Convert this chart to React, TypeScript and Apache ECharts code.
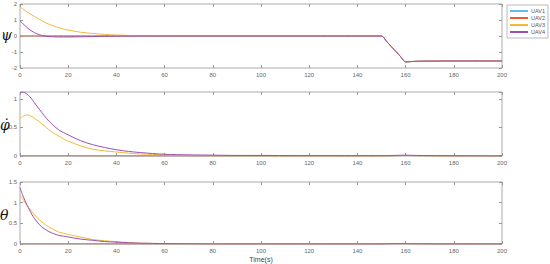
import React, { useEffect, useRef } from "react";
import * as echarts from "echarts";

const T = [0, 1, 2, 3, 4, 5, 6, 8, 10, 12, 14, 16, 18, 20, 25, 30, 35, 40, 45, 50, 60, 70, 80, 90, 100, 110, 120, 130, 140, 150, 152, 154, 156, 158, 160, 162, 165, 170, 180, 190, 200];

const seriesNames = ["UAV1", "UAV2", "UAV3", "UAV4"];
const colors = ["#5cc0ea", "#e8612c", "#f2b93a", "#9a4fb0"];

// psi
const psi12 = [0, 0, 0, 0, 0, 0, 0, 0, 0, 0, 0, 0, 0, 0, 0, 0, 0, 0, 0, 0, 0, 0, 0, 0, 0, 0, 0, 0, 0, 0, -0.32, -0.65, -0.97, -1.3, -1.62, -1.6, -1.58, -1.57, -1.56, -1.56, -1.56];
const psi3 = [1.83, 1.72, 1.61, 1.5, 1.41, 1.31, 1.22, 1.05, 0.88, 0.74, 0.62, 0.52, 0.44, 0.37, 0.24, 0.16, 0.1, 0.06, 0.04, 0.02, 0.01, 0, 0, 0, 0, 0, 0, 0, 0, 0, -0.32, -0.65, -0.97, -1.3, -1.62, -1.6, -1.58, -1.57, -1.56, -1.56, -1.56];
const psi4 = [0.94, 0.8, 0.66, 0.52, 0.4, 0.3, 0.21, 0.08, 0.0, -0.04, -0.05, -0.06, -0.06, -0.06, -0.05, -0.04, -0.02, -0.01, 0, 0, 0, 0, 0, 0, 0, 0, 0, 0, 0, 0, -0.32, -0.65, -0.97, -1.3, -1.62, -1.6, -1.58, -1.57, -1.56, -1.56, -1.56];

// phi dot
const phi12 = [0, 0, 0, 0, 0, 0, 0, 0, 0, 0, 0, 0, 0, 0, 0, 0, 0, 0, 0, 0, 0, 0, 0, 0, 0, 0, 0, 0, 0, 0, 0, 0.003, 0.006, 0.008, 0.01, 0.008, 0.005, 0.002, 0, 0, 0];
const phi3 = [0.65, 0.69, 0.71, 0.72, 0.71, 0.69, 0.66, 0.6, 0.53, 0.46, 0.4, 0.35, 0.3, 0.26, 0.18, 0.12, 0.09, 0.07, 0.05, 0.035, 0.02, 0.01, 0.005, 0.003, 0.002, 0.001, 0, 0, 0, 0, 0, 0.003, 0.006, 0.008, 0.01, 0.008, 0.005, 0.002, 0, 0, 0];
const phi4 = [1.11, 1.12, 1.11, 1.08, 1.04, 0.99, 0.93, 0.82, 0.71, 0.61, 0.53, 0.46, 0.41, 0.37, 0.27, 0.2, 0.15, 0.11, 0.08, 0.06, 0.03, 0.02, 0.015, 0.01, 0.01, 0.008, 0.006, 0.005, 0.005, 0.005, 0.006, 0.008, 0.011, 0.013, 0.014, 0.012, 0.01, 0.007, 0.004, 0.002, 0];

// theta
const th12 = [0, 0, 0, 0, 0, 0, 0, 0, 0, 0, 0, 0, 0, 0, 0, 0, 0, 0, 0, 0, 0, 0, 0, 0, 0, 0, 0, 0, 0, 0, 0.003, 0.005, 0.007, 0.008, 0.007, 0.005, 0.003, 0.001, 0, 0, 0];
const th3 = [1.19, 1.1, 1.01, 0.93, 0.85, 0.78, 0.71, 0.59, 0.49, 0.41, 0.35, 0.29, 0.26, 0.23, 0.17, 0.11, 0.08, 0.055, 0.035, 0.02, 0.01, 0.005, 0, 0, 0, 0, 0, 0, 0, 0, 0.003, 0.005, 0.007, 0.008, 0.007, 0.005, 0.003, 0.001, 0, 0, 0];
const th4 = [1.36, 1.2, 1.06, 0.93, 0.82, 0.71, 0.62, 0.47, 0.37, 0.3, 0.25, 0.21, 0.19, 0.17, 0.12, 0.09, 0.06, 0.045, 0.03, 0.02, 0.01, 0.005, 0, 0, 0, 0, 0, 0, 0, 0, 0.003, 0.005, 0.007, 0.008, 0.007, 0.005, 0.003, 0.001, 0, 0, 0];

const pairs = (v: number[]) => T.map((t, i) => [t, v[i]]);

export default function App() {
  const ref = useRef<HTMLDivElement>(null);
  useEffect(() => {
    if (!ref.current) return;
    const chart = echarts.init(ref.current, null, { renderer: "svg" });
    const grids = [
      { left: 20, top: 4, width: 482, height: 64 },
      { left: 20, top: 92, width: 482, height: 64 },
      { left: 20, top: 182, width: 482, height: 63 },
    ];
    const yCfg = [
      { min: -2, max: 2, interval: 1 },
      { min: 0, max: 1.12, interval: 0.5 },
      { min: 0, max: 1.5, interval: 0.5 },
    ];
    const axisLine = { show: false, onZero: false };
    const labelStyle = { fontSize: 6, color: "#666", fontFamily: "Liberation Sans" };
    const tick = { show: true, inside: true, length: 3, lineStyle: { color: "#999" } };
    const xAxis: any[] = [];
    const yAxis: any[] = [];
    grids.forEach((_, i) => {
      xAxis.push({
        type: "value", gridIndex: i, position: "bottom", min: 0, max: 200, interval: 20,
        axisLine, splitLine: { show: false }, axisTick: tick,
        axisLabel: { ...labelStyle, margin: 4 },
        ...(i === 2 ? { name: "Time(s)", nameLocation: "middle", nameGap: 12, nameTextStyle: { fontSize: 7, color: "#444", fontFamily: "Liberation Sans" } } : {}),
      });
    });
    grids.forEach((_, i) => {
      xAxis.push({
        type: "value", gridIndex: i, position: "top", min: 0, max: 200, interval: 20,
        axisLine, splitLine: { show: false }, axisTick: tick,
        axisLabel: { show: false },
      });
    });
    grids.forEach((_, i) => {
      yAxis.push({
        type: "value", gridIndex: i, position: "left", ...yCfg[i],
        axisLine, splitLine: { show: false }, axisTick: tick,
        axisLabel: {
          ...labelStyle, margin: 3,
          formatter: (v: number) => (Math.abs(v / 0.5 - Math.round(v / 0.5)) < 1e-6 ? String(v) : ""),
        },
      });
    });
    grids.forEach((_, i) => {
      yAxis.push({
        type: "value", gridIndex: i, position: "right", ...yCfg[i],
        axisLine, splitLine: { show: false }, axisTick: tick,
        axisLabel: { show: false },
      });
    });
    const data = [
      [psi12, psi12, psi3, psi4],
      [phi12, phi12, phi3, phi4],
      [th12, th12, th3, th4],
    ];
    const series: any[] = [];
    data.forEach((set, g) => {
      set.forEach((vals, k) => {
        series.push({
          type: "line", name: seriesNames[k], xAxisIndex: g, yAxisIndex: g,
          data: pairs(vals), showSymbol: false, smooth: 0.3,
          lineStyle: { width: 1, color: colors[k] }, itemStyle: { color: colors[k] },
        });
      });
    });
    chart.setOption({
      animation: false,
      backgroundColor: "#fff",
      grid: grids.map((g) => ({ ...g, show: true, borderColor: "#aaa", borderWidth: 1, backgroundColor: "transparent" })),
      xAxis, yAxis, series,
      legend: {
        data: seriesNames.map((n) => ({ name: n, icon: "rect" })),
        orient: "vertical", left: 507, top: 5, padding: [3, 3, 3, 3], itemGap: 1,
        itemWidth: 18, itemHeight: 2, borderColor: "#bbb", borderWidth: 1,
        textStyle: { fontSize: 5.5, color: "#555", fontFamily: "Liberation Sans", padding: [0, 0, 0, -2] },
      },
      graphic: [
        { type: "text", left: 1, top: 28, style: { text: "ψ", font: "italic 14px 'DejaVu Serif'", fill: "#111" } },
        { type: "text", left: 0, top: 118, style: { text: "φ̇", font: "italic 14px 'DejaVu Serif'", fill: "#111" } },
        { type: "text", left: 0, top: 208, style: { text: "θ", font: "italic 14px 'DejaVu Serif'", fill: "#111" } },
      ],
    });
    return () => chart.dispose();
  }, []);
  return <div ref={ref} style={{ position: "fixed", left: 0, top: 0, width: 550, height: 264 }} />;
}
